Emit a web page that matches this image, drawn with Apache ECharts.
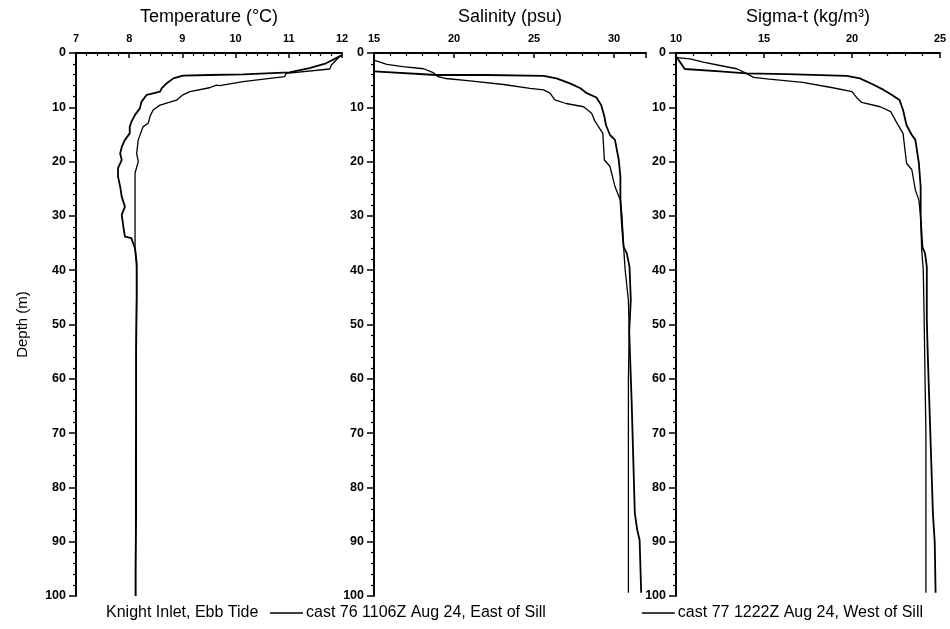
<!DOCTYPE html>
<html>
<head>
<meta charset="utf-8">
<script src="https://cdn.jsdelivr.net/npm/echarts@6/dist/echarts.min.js"></script>
<style>
html,body{margin:0;padding:0;background:#fff;}
#c{width:950px;height:629px;}
</style>
</head>
<body>
<div id="c"></div>
<script>
// ---- Data ----
const seriesNames = ['cast 76 1106Z Aug 24, East of Sill', 'cast 77 1222Z Aug 24, West of Sill'];
const panelTitles = ['Temperature (°C)', 'Salinity (psu)', 'Sigma-t (kg/m³)'];
const depthTicks = [0, 10, 20, 30, 40, 50, 60, 70, 80, 90, 100];

// Temperature, cast 76
const tempDepth76 = [0.4, 1.9, 2.8, 3.56, 3.93, 4.05, 4.17, 4.67, 5.6, 6.5, 7.1, 7.7, 9.0, 10.2, 11.4, 12.7, 13.6, 14.8, 16, 17.3, 18.5, 19.7, 21.2, 22.8, 24.6, 26.5, 28.3, 29.8, 32, 33.8, 34.1, 36, 38.7, 45, 55, 65, 75, 85, 95, 100];
const temp76      = [12.0, 11.7, 11.39, 11.01, 10.14, 9.51, 9.01, 8.83, 8.70, 8.61, 8.58, 8.33, 8.23, 8.20, 8.11, 8.04, 8.01, 8.01, 7.92, 7.86, 7.83, 7.86, 7.79, 7.79, 7.83, 7.86, 7.92, 7.86, 7.89, 7.92, 8.04, 8.11, 8.14, 8.14, 8.13, 8.13, 8.13, 8.13, 8.12, 8.12];
// Temperature, cast 77
const tempDepth77 = [0.7, 2.2, 2.95, 3.75, 4.36, 5.28, 6.0, 5.9, 6.4, 7.1, 7.7, 8.7, 9.6, 10.5, 11.7, 12.9, 13.6, 16, 18.5, 20, 22.1, 27, 32.6, 35.7, 39.3, 45, 55, 65, 75, 85, 95, 100];
const temp77      = [11.95, 11.8, 11.77, 10.95, 10.92, 10.14, 9.70, 9.64, 9.51, 9.14, 9.01, 8.89, 8.58, 8.45, 8.39, 8.36, 8.26, 8.17, 8.14, 8.17, 8.11, 8.11, 8.11, 8.11, 8.14, 8.14, 8.13, 8.13, 8.12, 8.12, 8.12, 8.12];

// Salinity, cast 76
const salDepth76 = [3.4, 4.05, 4.05, 4.2, 4.67, 5.6, 6.5, 7.4, 8.2, 9.6, 11.7, 13.3, 15.1, 16, 19.7, 22.8, 27.1, 32, 35.7, 36.9, 39.4, 45.5, 51.3, 63.9, 84.7, 87.8, 89.7, 99.4];
const sal76      = [15.0, 18.9, 22.0, 25.6, 26.4, 27.25, 27.9, 28.3, 28.9, 29.2, 29.4, 29.5, 29.75, 30.06, 30.3, 30.4, 30.4, 30.5, 30.6, 30.8, 30.97, 31.05, 30.95, 31.1, 31.3, 31.45, 31.6, 31.7];
// Salinity, cast 77
const salDepth77 = [1.3, 2.1, 2.5, 2.9, 3.6, 4.36, 4.7, 5.15, 5.8, 6.5, 6.8, 7.4, 8.65, 9.3, 9.9, 11.1, 12.5, 14.8, 19.7, 20.9, 24.6, 27.1, 30.1, 35.7, 40, 45.5, 51.3, 60, 70, 80, 90, 99.4];
const sal77      = [15.0, 15.8, 16.8, 18.1, 18.7, 19.0, 19.5, 21.0, 23.1, 24.75, 25.6, 26.0, 26.3, 27.0, 28.1, 28.6, 28.8, 29.3, 29.4, 29.75, 30.06, 30.4, 30.5, 30.6, 30.7, 30.9, 30.95, 30.9, 30.9, 30.9, 30.9, 30.9];

// Sigma-t, cast 76
const sigDepth76 = [0.6, 2.95, 3.4, 3.75, 3.9, 4.2, 4.67, 5.8, 6.8, 7.7, 8.65, 10.5, 13.3, 15.1, 16, 20.3, 24.6, 30.1, 35.7, 36.9, 39.4, 49, 55, 65, 75, 85, 90, 99.4];
const sig76      = [10.0, 10.5, 12.5, 14.0, 16.3, 19.7, 20.45, 21.2, 21.8, 22.25, 22.7, 22.9, 23.1, 23.4, 23.6, 23.8, 23.9, 23.9, 24.0, 24.15, 24.25, 24.25, 24.3, 24.4, 24.5, 24.6, 24.7, 24.75];
// Sigma-t, cast 77
const sigDepth77 = [0.86, 1.1, 1.7, 2.3, 2.9, 3.75, 4.5, 4.8, 5.4, 6.4, 7.1, 8.35, 9.1, 9.9, 10.8, 12.6, 14.8, 20.3, 21.5, 25.2, 27.1, 30.1, 36.3, 40, 49, 60, 70, 80, 90, 99.4];
const sig77      = [10.04, 10.8, 11.55, 12.5, 13.45, 14.0, 14.4, 15.3, 17.2, 18.9, 20.0, 20.3, 20.55, 21.6, 22.2, 22.5, 22.9, 23.1, 23.4, 23.6, 23.8, 23.9, 23.96, 24.05, 24.1, 24.15, 24.2, 24.2, 24.2, 24.2];

const xRanges = [[7, 12, 1], [15, 32, 5], [10, 25, 5]];

// ---- Chart ----
const FONT = 'Liberation Sans, Arial, Helvetica, sans-serif';
const chart = echarts.init(document.getElementById('c'), null, {renderer: 'canvas'});
const pair = (xs, ds) => xs.map((v, i) => [v, ds[i]]);

const grids = [
  {left: 76, top: 53, width: 266, height: 543},
  {left: 374, top: 53, width: 272, height: 543},
  {left: 676, top: 53, width: 264, height: 543}
];

const xAxes = xRanges.map((r, i) => ({
  type: 'value', gridIndex: i, position: 'top', min: r[0], max: r[1], interval: r[2],
  name: panelTitles[i], nameLocation: 'middle', nameGap: 27,
  nameTextStyle: {fontFamily: FONT, fontSize: 18, color: '#000'},
  axisLine: {show: true, lineStyle: {color: '#000', width: 2}},
  axisTick: {show: true, inside: true, length: 5, lineStyle: {color: '#000', width: 1.5}},
  minorTick: {show: true, splitNumber: 5, length: 3, lineStyle: {color: '#000', width: 1.2}},
  splitLine: {show: false},
  axisLabel: {fontFamily: FONT, fontSize: 11, fontWeight: 'bold', color: '#000', margin: 9,
    formatter: v => (Math.abs(v % r[2]) < 1e-9 ? String(v) : '')}
}));

const yAxes = [0, 1, 2].map(i => ({
  type: 'value', gridIndex: i, inverse: true, min: 0, max: 100, interval: 10,
  name: i === 0 ? 'Depth (m)' : '', nameLocation: 'middle', nameGap: 46, nameRotate: 90,
  nameTextStyle: {fontFamily: FONT, fontSize: 15, color: '#000'},
  axisLine: {show: true, lineStyle: {color: '#000', width: 2}},
  axisTick: {show: true, inside: false, length: 7, lineStyle: {color: '#000', width: 1.5}},
  minorTick: {show: true, splitNumber: 5, length: 3, lineStyle: {color: '#000', width: 1.2}},
  splitLine: {show: false},
  axisLabel: {fontFamily: FONT, fontSize: 12.5, fontWeight: 'bold', color: '#000', margin: 10,
    formatter: v => (depthTicks.indexOf(v) >= 0 ? String(v) : '')}
}));

const lineSeries = (name, data, idx, w) => ({
  name: name, type: 'line', xAxisIndex: idx, yAxisIndex: idx, data: data,
  showSymbol: false, symbol: 'none', smooth: false, clip: true,
  lineStyle: {color: '#000', width: w}, itemStyle: {color: '#000'}, animation: false
});

const series = [
  lineSeries(seriesNames[0], pair(temp76, tempDepth76), 0, 1.8),
  lineSeries(seriesNames[1], pair(temp77, tempDepth77), 0, 1.3),
  lineSeries(seriesNames[0], pair(sal76, salDepth76), 1, 1.8),
  lineSeries(seriesNames[1], pair(sal77, salDepth77), 1, 1.3),
  lineSeries(seriesNames[0], pair(sig76, sigDepth76), 2, 1.8),
  lineSeries(seriesNames[1], pair(sig77, sigDepth77), 2, 1.3)
];

chart.setOption({
  backgroundColor: '#fff',
  animation: false,
  grid: grids,
  xAxis: xAxes,
  yAxis: yAxes,
  legend: {
    data: seriesNames, left: 270, top: 605, padding: 0, icon: 'rect', itemWidth: 33, itemHeight: 1.6,
    itemGap: 96, selectedMode: false,
    textStyle: {fontFamily: FONT, fontSize: 16, color: '#000', lineHeight: 16, padding: [0, 0, 0, -2]},
    itemStyle: {color: '#000'}
  },
  graphic: [{
    type: 'text', left: 106, top: 605,
    style: {text: 'Knight Inlet, Ebb Tide', font: '16px ' + FONT, fill: '#000', lineHeight: 16}
  }],
  series: series
});
</script>
</body>
</html>
